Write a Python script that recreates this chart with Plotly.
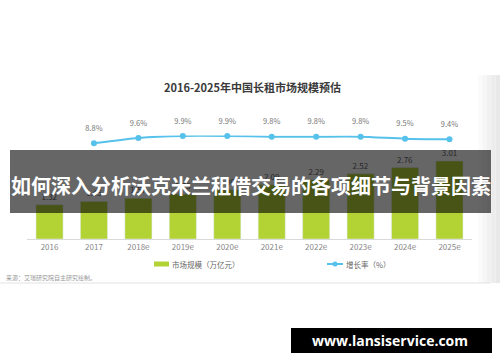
import plotly.graph_objects as go

years = ["2016", "2017", "2018e", "2019e", "2020e", "2021e", "2022e", "2023e", "2024e", "2025e"]
market_size = [1.32, 1.45, 1.57, 1.73, 1.90, 2.09, 2.29, 2.52, 2.76, 3.01]
growth_years = ["2017", "2018e", "2019e", "2020e", "2021e", "2022e", "2023e", "2024e", "2025e"]
growth_rate = [8.8, 9.6, 9.9, 9.9, 9.8, 9.8, 9.8, 9.5, 9.4]

chart_title = "2016-2025年中国长租市场规模预估"
bar_name = "市场规模（万亿元）"
line_name = "增长率（%）"
source_text = "来源：艾瑞研究院自主研究绘制。"
banner_text = "如何深入分析沃克米兰租借交易的各项细节与背景因素"
site_text = "www.lansiservice.com"

W, H = 500, 362
CJK = "Noto Sans CJK SC"
BAR_C = "#b3d335"
LINE_C = "#56c1ea"


def px(x):
    return x / W


def py(y):
    return 1 - y / H


fig = go.Figure()
fig.add_trace(go.Bar(
    x=years, y=market_size, name=bar_name, marker_color=BAR_C, width=0.61,
    text=[f"{v:.2f}" for v in market_size], textposition="outside",
    textfont=dict(size=8, color="#666666", family=CJK), cliponaxis=False,
    showlegend=False,
))
fig.add_trace(go.Scatter(
    x=growth_years, y=growth_rate, name=line_name, yaxis="y2",
    mode="lines+markers", line=dict(color=LINE_C, width=2, shape="spline", smoothing=0.6),
    marker=dict(color=LINE_C, size=6), showlegend=False, cliponaxis=False,
))
# labels for the growth line (invisible larger markers give the label offset)
fig.add_trace(go.Scatter(
    x=growth_years, y=growth_rate, name=line_name, yaxis="y2",
    mode="markers+text", marker=dict(color="rgba(0,0,0,0)", size=15),
    text=[f"{v:.1f}%" for v in growth_rate], textposition="top center",
    textfont=dict(size=7.5, color="#777777", family=CJK), cliponaxis=False,
    showlegend=False, hoverinfo="skip",
))

shapes = []
annotations = []

# right gray gradient strip
strip_cols = ["#fbfbfb", "#f6f6f6", "#f1f1f1", "#ececec", "#e8e8e8"]
for i, c in enumerate(strip_cols):
    x0 = 478 + i * 4.4
    shapes.append(dict(type="rect", xref="paper", yref="paper", x0=px(x0), x1=px(x0 + 4.4),
                       y0=py(283), y1=py(75), fillcolor=c, line_width=0, layer="below"))

# separator line
shapes.append(dict(type="line", xref="paper", yref="paper", x0=0, x1=px(490), y0=py(283), y1=py(283),
                   line=dict(color="#e2e2e2", width=1), layer="below"))

# legend (manual)
shapes.append(dict(type="rect", xref="paper", yref="paper", x0=px(154), x1=px(169), y0=py(266.5), y1=py(261.5),
                   fillcolor=BAR_C, line_width=0))
shapes.append(dict(type="line", xref="paper", yref="paper", x0=px(327), x1=px(343), y0=py(264), y1=py(264),
                   line=dict(color=LINE_C, width=2)))
shapes.append(dict(type="circle", xref="paper", yref="paper", x0=px(332.5), x1=px(337.5), y0=py(266.5), y1=py(261.5),
                   fillcolor=LINE_C, line_width=0))
annotations.append(dict(text=bar_name, xref="paper", yref="paper", x=px(170), y=py(264), xanchor="left",
                        yanchor="middle", showarrow=False, font=dict(size=7.5, color="#666666", family=CJK)))
annotations.append(dict(text=line_name, xref="paper", yref="paper", x=px(344), y=py(264), xanchor="left",
                        yanchor="middle", showarrow=False, font=dict(size=7.5, color="#666666", family=CJK)))

# title and source
annotations.append(dict(text=f"<b>{chart_title}</b>", xref="paper", yref="paper", x=px(252), y=py(87),
                        xanchor="center", yanchor="middle", showarrow=False,
                        font=dict(size=11, color="#3a3a3a", family=CJK)))
annotations.append(dict(text=source_text, xref="paper", yref="paper", x=px(4), y=py(277), xanchor="left",
                        yanchor="middle", showarrow=False, font=dict(size=6, color="#999999", family=CJK)))

# banner overlay
shapes.append(dict(type="rect", xref="paper", yref="paper", x0=px(10), x1=px(491), y0=py(213), y1=py(150),
                   fillcolor="rgba(0,0,0,0.6)", line_width=0, layer="above"))
annotations.append(dict(text=f"<b>{banner_text}</b>", xref="paper", yref="paper", x=px(250.5), y=py(185),
                        xanchor="center", yanchor="middle", showarrow=False,
                        font=dict(size=20, color="white", family=CJK)))

# site box
shapes.append(dict(type="rect", xref="paper", yref="paper", x0=px(291), x1=px(492), y0=py(353), y1=py(328),
                   fillcolor="black", line_width=0, layer="above"))
annotations.append(dict(text=f"<b>{site_text}</b>", xref="paper", yref="paper", x=px(390), y=py(340.5),
                        xanchor="center", yanchor="middle", showarrow=False,
                        font=dict(size=14, color="white", family="Open Sans")))

x_dom = [px(27.3), px(471.7)]
y_dom = [py(239), py(135.4)]

fig.update_layout(
    width=W, height=H, margin=dict(l=0, r=0, t=0, b=0),
    paper_bgcolor="white", plot_bgcolor="rgba(0,0,0,0)",
    showlegend=False, bargap=0.39,
    xaxis=dict(domain=x_dom, range=[-0.5, 9.5], showgrid=False, zeroline=False,
               showline=True, linecolor="#d9d9d9", linewidth=1, ticks="",
               tickfont=dict(size=8, color="#888888", family=CJK), fixedrange=True),
    yaxis=dict(domain=y_dom, range=[0, 4], visible=False, fixedrange=True),
    yaxis2=dict(overlaying="y", range=[-5.61, 9.99], visible=False, fixedrange=True),
    shapes=shapes, annotations=annotations,
)

fig.write_html("out.html", config={"displayModeBar": False},
               post_script="document.body.style.margin='0';document.body.style.overflow='hidden';")
